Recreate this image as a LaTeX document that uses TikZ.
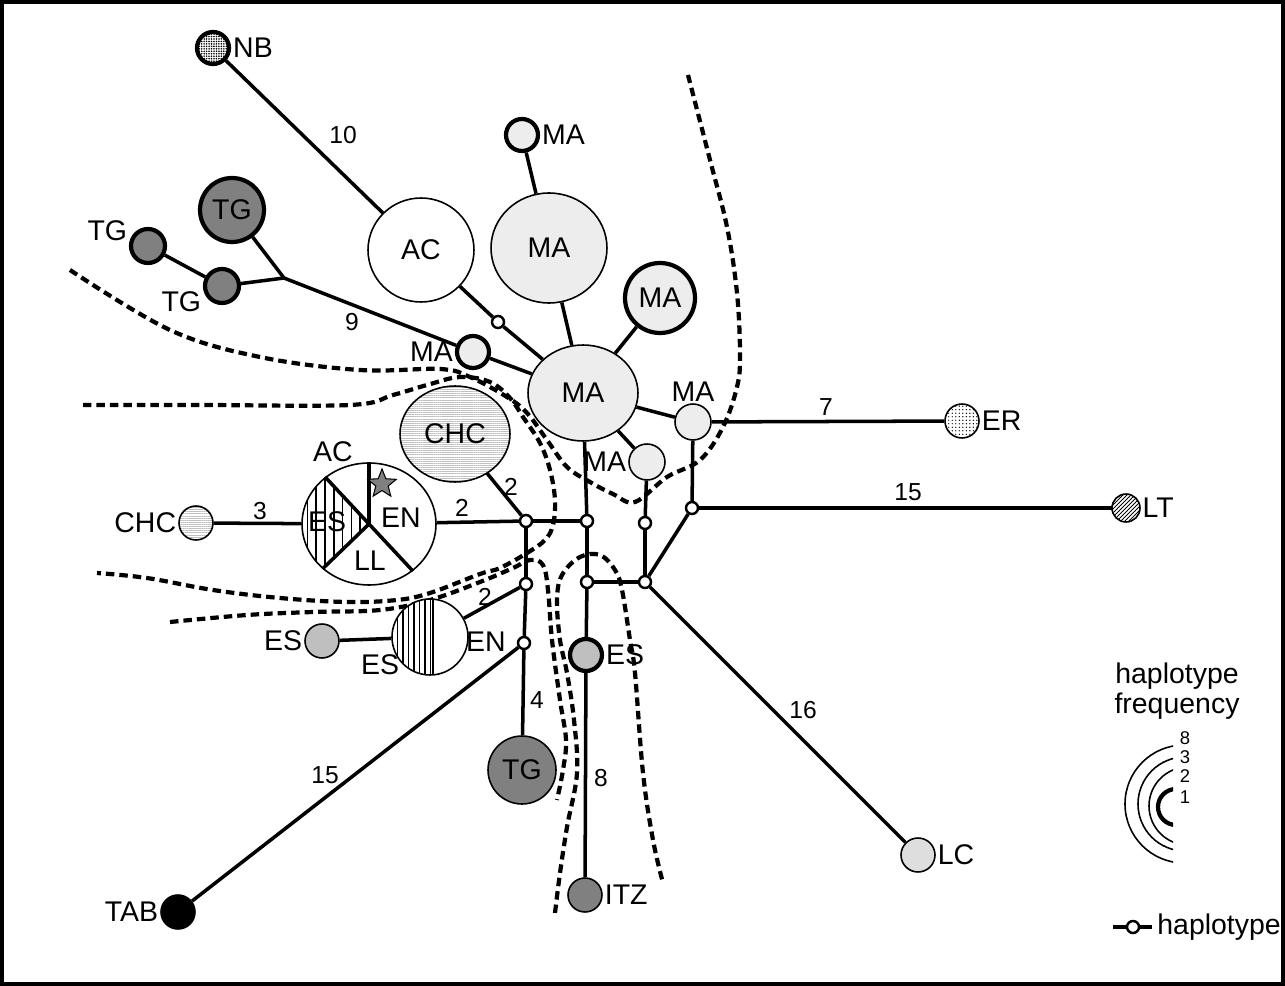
\documentclass[tikz,border=0pt]{standalone}
\usepackage{fontspec}
\setmainfont{Liberation Sans}
\usetikzlibrary{shapes.geometric,patterns.meta}

\definecolor{light}{gray}{0.93}
\definecolor{mid}{gray}{0.75}
\definecolor{dark}{gray}{0.5}
\definecolor{pale}{gray}{0.87}

\begin{document}
\begin{tikzpicture}[x=0.02cm,y=-0.02cm,
    every node/.append style={font=\fontsize{16.2}{19}\selectfont},
    pop/.style={shape=circle,draw=black,line width=0.9pt,inner sep=0pt,minimum size=0.68cm},
    bold/.style={line width=2.4pt},
    ovl/.style={shape=ellipse,draw=black,line width=0.9pt,inner sep=0pt},
    hap/.style={shape=circle,draw=black,fill=white,line width=1.4pt,inner sep=0pt,minimum size=0.24cm},
    link/.style={-,line width=2pt},
    lbl/.style={inner sep=1pt},
    num/.style={inner sep=0pt,font=\fontsize{14}{16}\selectfont},
    bound/.style={line width=2.4pt,dash pattern=on 0.17cm off 0.1cm},
    chcfill/.style={pattern={Lines[angle=0,distance=1.2pt,line width=0.3pt]},pattern color=gray!50}]

    \useasboundingbox (0,0) rectangle (1285,986);
    \draw[line width=0.09cm] (2.25,2.25) rectangle (1282.75,983.75);

    % region boundaries
    \draw[bound] plot[smooth,tension=0.6] coordinates {(70,270) (170,330) (260,357) (360,370) (440,369) (470,377) (507,397) (527,413) (547,440) (567,467) (590,482) (613,494) (635,502) (667,477) (700,460) (723,427) (737,387) (740,355) (737,293) (727,227) (710,160) (688,75)};
    \draw[bound] plot[smooth,tension=0.6] coordinates {(83,405) (200,405) (350,405) (393,395) (427,385) (460,377) (490,382) (510,398) (523,417) (540,443) (550,470) (555,500) (553,525) (545,540) (527,553) (500,568) (480,574) (430,593) (397,600) (347,602) (280,598) (213,590) (147,578) (97,573)};
    \draw[bound] plot[smooth,tension=0.6] coordinates {(170,622) (247,615) (313,612) (380,610) (430,600) (480,582) (513,568) (530,560) (543,565) (548,590) (552,640) (560,700) (566,740) (563,770) (557,800)};
    \draw[bound] plot[smooth,tension=0.6] coordinates {(555,913) (560,873) (567,827) (577,773) (574,720) (567,673) (560,640) (557,600) (562,575) (580,557) (600,555) (615,570) (622,590) (630,640) (635,673) (643,773) (653,840) (663,883)};

    % populations
    \node[pop,bold,minimum size=0.64cm,pattern={Dots[distance=1.4pt,radius=0.5pt]},label={[lbl]0:NB}] (NB) at (213,48) {};
    \node[ovl,fill=white,minimum width=2.12cm,minimum height=2.08cm] (AC) at (421,250) {AC};
    \node[pop,bold,minimum size=0.64cm,fill=light,label={[lbl]0:MA}] (MAt) at (522,135) {};
    \node[ovl,fill=light,minimum width=2.32cm,minimum height=2.2cm] (MAb) at (549,248) {MA};
    \node[pop,bold,minimum size=1.4cm,fill=light] (MAr) at (660,298) {MA};
    \node[pop,bold,minimum size=1.28cm,fill=dark] (TGb) at (232,210) {TG};
    \node[pop,bold,fill=dark,label={[lbl]170:TG}] (TG1) at (148,246) {};
    \node[pop,bold,fill=dark,label={[lbl]190:TG}] (TG2) at (222,286) {};
    \coordinate (j1) at (284,278);
    \node[pop,bold,minimum size=0.64cm,fill=light,label={[lbl]180:MA}] (MAl) at (473,352) {};
    \node[hap] (h1) at (498,322) {};
    \node[ovl,fill=light,minimum width=2.2cm,minimum height=1.92cm] (MAc) at (583,393) {MA};
    \node[pop,fill=light,minimum size=0.72cm,label={[lbl]90:MA}] (MAe) at (693,422) {};
    \node[pop,fill=light,minimum size=0.72cm,label={[lbl]180:MA}] (MAs) at (647,462) {};
    \node[pop,pattern={Dots[distance=2pt,radius=0.4pt]},label={[lbl]0:ER}] (ER) at (962,421) {};
    \node[pop,minimum size=0.56cm,pattern={Lines[angle=45,distance=1.6pt,line width=0.5pt]},label={[lbl]0:LT}] (LT) at (1126,508) {};
    \node[ovl,chcfill,minimum width=2.2cm,minimum height=1.92cm] (CHC) at (455,434) {CHC};
    \node[pop,chcfill,label={[lbl]180:CHC}] (CHCs) at (196,523) {};

    % mixed haplotype AC/ES/EN/LL
    \node[ovl,fill=white,minimum width=2.68cm,minimum height=2.44cm,
          path picture={\fill[pattern={Lines[angle=90,distance=5pt,line width=0.9pt]}]
            (path picture bounding box.center) -- +(133:3cm) -- +(180:3cm) -- +(224:3cm) -- cycle;}] (pie) at (369,524) {};
    \draw[link] (pie.center) -- (pie.90);
    \draw[link] (pie.133) -- (pie.-47);
    \draw[link] (pie.center) -- (pie.224);
    \node[star,star points=5,star point ratio=2.3,draw=black,fill=dark,line width=0.6pt,minimum size=0.6cm,inner sep=0pt] (star) at (382,484) {};
    \node (pAC) at (333,452) {AC};
    \node (pES) at (327,522) {ES};
    \node (pEN) at (401,518) {EN};
    \node (pLL) at (370,561) {LL};

    % mixed haplotype ES/EN
    \node[pop,fill=white,minimum size=1.52cm,
          path picture={\fill[pattern={Lines[angle=90,distance=3.1pt,line width=0.85pt]}]
            (path picture bounding box.south west) rectangle ([xshift=0.06cm]path picture bounding box.north);
            \draw[line width=1.3pt] ([xshift=0.06cm]path picture bounding box.north) -- ([xshift=0.06cm]path picture bounding box.south);}] (esen) at (430,637) {};
    \node (eES) at (380,665) {ES};
    \node (eEN) at (486,642) {EN};
    \node[pop,fill=mid,label={[lbl]180:ES}] (ESs) at (322,641) {};

    % haplotypes
    \node[hap] (hLT) at (692,508) {};
    \node[hap] (hS) at (645,523) {};
    \node[hap] (hJ) at (645,582) {};
    \node[hap] (hA) at (587,521) {};
    \node[hap] (hB) at (587,582) {};
    \node[hap] (hC) at (526,521) {};
    \node[hap] (hD) at (526,584) {};
    \node[hap] (hE) at (524,643) {};

    \node[pop,bold,minimum size=0.64cm,fill=mid,label={[lbl]0:ES}] (ES) at (586,655) {};
    \node[pop,fill=dark,label={[lbl]0:ITZ}] (ITZ) at (585,895) {};
    \node[pop,fill=dark,minimum size=1.36cm] (TGs) at (522,770) {TG};
    \node[pop,fill=pale,label={[lbl]0:LC}] (LC) at (918,855) {};
    \node[pop,fill=black,label={[lbl]180:TAB}] (TAB) at (178,912) {};

    \path[link] (NB) edge (AC)
        (TGb) edge (j1) (TG2) edge (j1) (TG1) edge (TG2)
        (j1) edge (MAl) (MAl) edge (MAc)
        (AC) edge (h1) (h1) edge (MAc)
        (MAt) edge (MAb) (MAb) edge (MAc) (MAr) edge (MAc)
        (MAc) edge (MAe) (MAc) edge (MAs)
        (MAe) edge (ER) (MAe) edge (hLT) (hLT) edge (LT) (hLT) edge (hJ)
        (MAs) edge (hS) (hS) edge (hJ)
        (MAc) edge (hA) (hA) edge (hB) (hB) edge (ES) (ES) edge (ITZ)
        (hB) edge (hJ) (hJ) edge (LC)
        (CHC) edge (hC) (pie) edge (hC) (hC) edge (hA)
        (hC) edge (hD) (hD) edge (hE) (hE) edge (TGs)
        (hD) edge (esen) (hE) edge (TAB)
        (CHCs) edge (pie) (ESs) edge (esen);

    % mutation steps
    \node[num] (n10) at (343,135) {10};
    \node[num] (n9) at (352,322) {9};
    \node[num] (n7) at (826,407) {7};
    \node[num] (n15a) at (908,492) {15};
    \node[num] (n3) at (260,511) {3};
    \node[num] (n2a) at (462,508) {2};
    \node[num] (n2b) at (511,487) {2};
    \node[num] (n2c) at (485,597) {2};
    \node[num] (n4) at (537,700) {4};
    \node[num] (n15b) at (325,775) {15};
    \node[num] (n8) at (601,778) {8};
    \node[num] (n16) at (803,710) {16};

    % legend
    \node (lg1) at (1177,676) {haplotype};
    \node (lg2) at (1177,706) {frequency};
    \begin{scope}
        \clip (1100,720) rectangle (1173,880);
        \draw[line width=0.9pt] (1184,804) circle [radius=59];
        \draw[line width=0.9pt] (1185,804) circle [radius=47];
        \draw[line width=0.9pt] (1188,806) circle [radius=39];
        \draw[line width=2.4pt] (1176,807) circle [radius=18];
    \end{scope}
    \node[num,font=\fontsize{10.5}{12}\selectfont] (f8) at (1185,738) {8};
    \node[num,font=\fontsize{10.5}{12}\selectfont] (f3) at (1185,757) {3};
    \node[num,font=\fontsize{10.5}{12}\selectfont] (f2) at (1185,776) {2};
    \node[num,font=\fontsize{10.5}{12}\selectfont] (f1) at (1185,797) {1};
    \coordinate (la) at (1113,927);
    \coordinate (lb) at (1152,927);
    \node[hap] (lh) at (1133,927) {};
    \path[link] (la) edge (lh) (lh) edge (lb);
    \node[anchor=west,inner sep=0pt] (lgh) at (1157,927) {haplotype};
\end{tikzpicture}
\end{document}
